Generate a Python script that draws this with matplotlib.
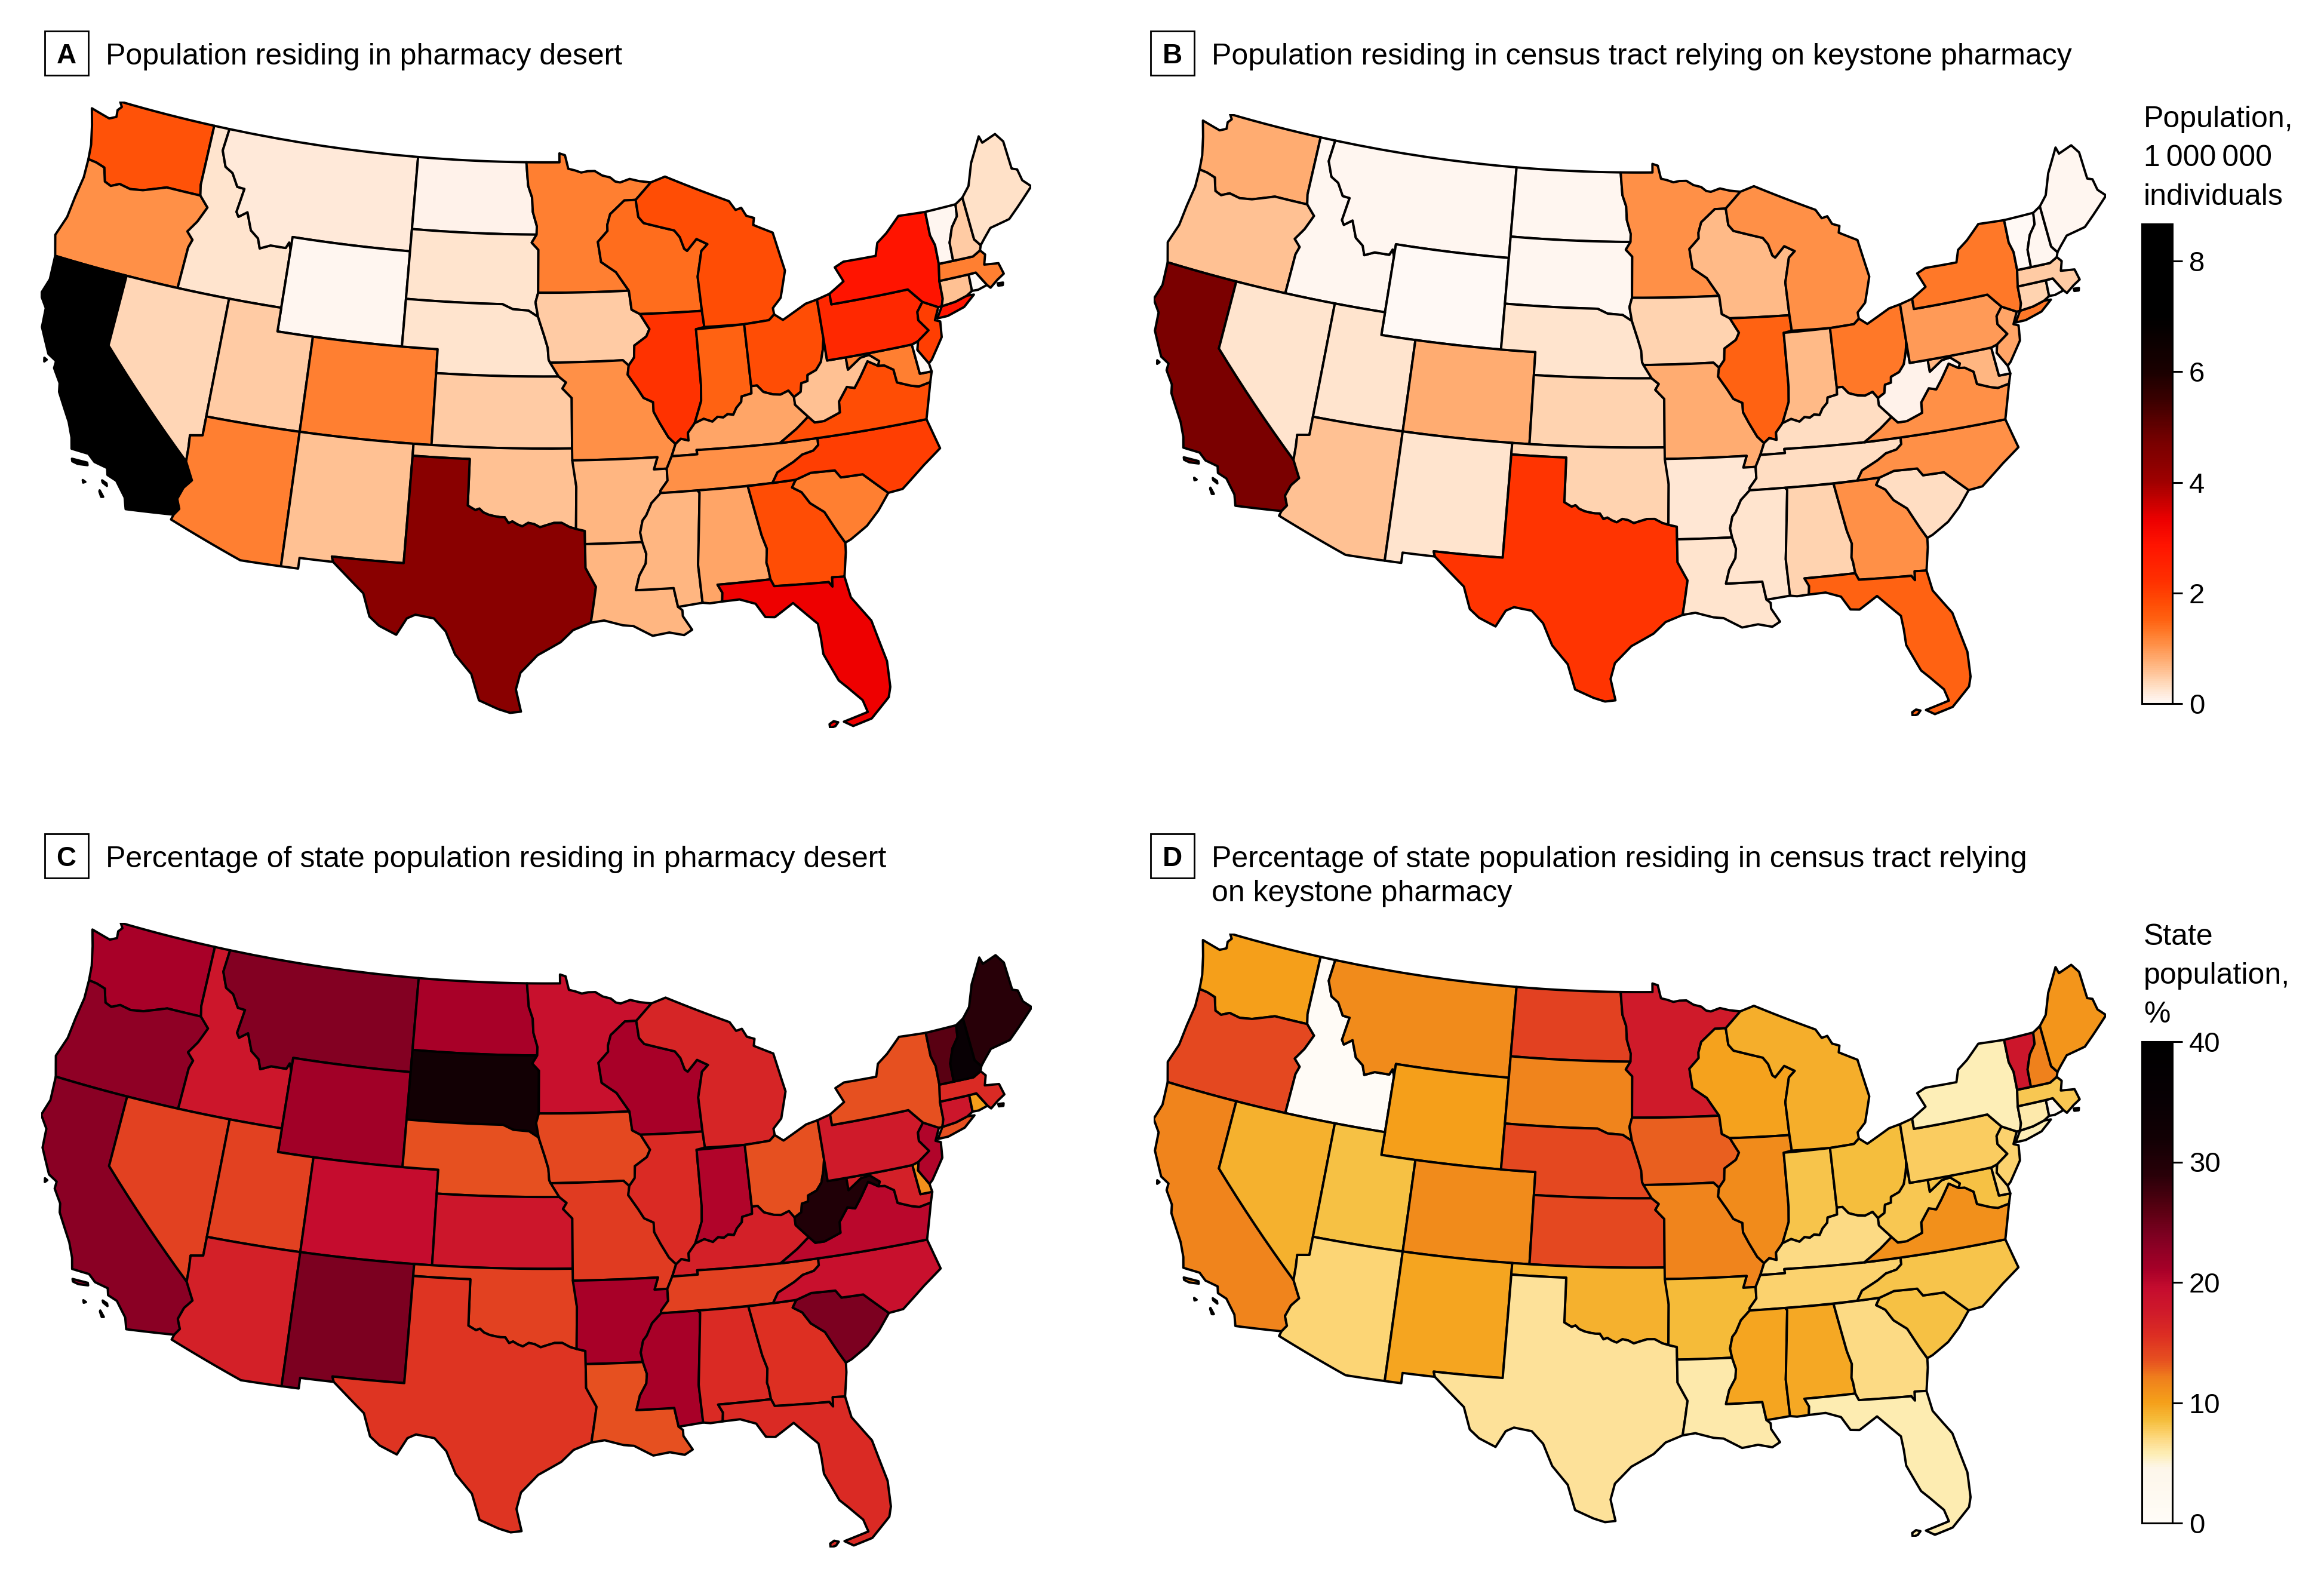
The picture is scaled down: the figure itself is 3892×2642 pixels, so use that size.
import numpy as np
import matplotlib
matplotlib.use('Agg')
import matplotlib.pyplot as plt
from matplotlib.colors import LinearSegmentedColormap, Normalize
from matplotlib.cm import ScalarMappable
from matplotlib.patches import Rectangle

plt.rcParams['font.family'] = ['Liberation Sans', 'DejaVu Sans']

W, H = 3892, 2642

# values per state
state_names = ['WA','OR','CA','ID','NV','MT','WY','UT','AZ','CO','NM','ND','SD','NE','KS','OK','TX',
               'MN','IA','MO','AR','LA','WI','IL','MI','IN','OH','KY','TN','MS','AL','GA','FL','SC','NC',
               'VA','WV','MD','DE','PA','NJ','NY','CT','RI','MA','VT','NH','ME']
pop_desert = [1.75,1.05,8.6,0.27,0.4,0.18,0.05,0.5,1.25,1.25,0.6,0.1,0.27,0.27,0.5,0.6,4.4,
              1.25,0.5,1.05,0.7,0.7,1.4,2.2,1.8,1.5,1.8,0.85,1.05,0.7,0.85,1.8,3.3,1.25,2.0,
              1.8,0.6,1.25,0.02,2.4,2.0,2.85,0.6,0.02,1.25,0.05,0.5,0.3]
pop_keystone = [0.8,0.6,4.7,0.04,0.25,0.05,0.02,0.25,0.6,0.8,0.25,0.05,0.05,0.25,0.42,0.42,2.15,
                1.05,0.42,0.8,0.22,0.25,0.65,1.5,1.05,0.65,1.3,0.33,0.33,0.25,0.42,1.05,1.5,0.33,1.05,
                1.05,0.07,0.7,0.05,0.95,0.85,1.3,0.42,0.02,0.5,0.02,0.06,0.06]
pct_desert = [21,22.8,23,18,14.5,23.5,21.5,14.5,17,19.5,24,21,32,13.5,18,14.5,15.3,
              19,14,14.8,21,13.5,21,16,16.5,20.5,13.5,17,14.5,21,16,15.5,16,24,19,
              20,30,17,11,17.5,20.5,13.5,18,10,16,26,35,29]
pct_keystone = [10,14,11.8,0.5,9.2,11.4,10,8.3,7.2,11.4,9.8,14.5,11.8,14,14,9.2,6.5,
                17.5,13,11.8,8.6,6,9.9,11.3,9.3,8.2,8.5,7,7.4,9.8,9.6,7,5.9,8.3,8.2,
                11,8,8.3,7,7.8,7.4,5.7,6,3,8,18,12,10.7]

# shared borders, lon/lat
wa_or = [(-116.92,45.99),(-119.0,46.0),(-120.34,45.64),(-121.1,45.55),(-121.78,45.64),(-122.26,45.46),
         (-122.67,45.57),(-122.94,46.13),(-123.48,46.24),(-124.0,46.28)]
or_id = [(-117.03,42.0),(-116.95,43.75),(-116.8,44.1),(-117.2,44.4),(-116.75,44.9),(-116.35,45.56),(-116.92,45.99)]
id_mt = [(-116.05,49.0),(-116.18,48.05),(-115.8,47.4),(-115.3,47.2),(-114.85,46.67),(-114.4,46.64),(-114.6,45.63),
         (-114.43,45.44),(-113.95,45.7),(-113.55,44.98),(-113.05,44.7),(-112.85,44.3),(-112.25,44.5),(-111.35,44.5),
         (-111.2,44.75),(-111.05,44.47)]
colorado_r = [(-114.05,36.2),(-114.7,36.1),(-114.65,35.6),(-114.63,35.0),(-114.15,34.27),(-114.5,33.9),(-114.7,33.4),(-114.5,33.0),(-114.72,32.72)]
red_river = [(-100.0,34.56),(-99.6,34.38),(-99.4,34.45),(-99.2,34.3),(-98.9,34.2),(-98.6,34.15),(-98.35,34.12),(-98.1,34.12),
             (-97.9,33.88),(-97.7,33.95),(-97.45,33.83),(-97.2,33.75),(-96.9,33.9),(-96.6,33.85),(-96.3,33.72),(-96.0,33.8),
             (-95.6,33.9),(-95.2,33.9),(-94.8,33.72),(-94.48,33.64)]
mn_nd = [(-97.23,49.0),(-97.1,48.0),(-96.85,47.5),(-96.8,46.9),(-96.55,46.3),(-96.56,45.94)]
mn_sd = [(-96.56,45.94),(-96.85,45.6),(-96.45,45.3),(-96.45,43.5)]
missouri_ne = [(-96.45,42.49),(-96.1,41.7),(-95.9,41.2),(-95.85,40.7),(-95.77,40.58)]
sd_ne = [(-96.45,43.5),(-96.6,43.1),(-96.45,42.49),(-97.0,42.75),(-97.9,42.8),(-98.5,43.0),(-104.05,43.0)]
ks_mo = [(-95.3,40.0),(-94.9,39.75),(-95.1,39.5),(-94.6,39.1),(-94.62,37.0)]
mn_wi = [(-92.1,46.75),(-92.3,46.3),(-92.3,46.05),(-92.9,45.6),(-92.75,44.75),(-91.9,44.3),(-91.2,43.5)]
ia_wi = [(-91.2,43.5),(-91.1,42.7),(-90.64,42.5)]
ia_il = [(-90.64,42.5),(-90.15,41.85),(-90.35,41.55),(-91.05,41.2),(-91.1,40.7),(-91.42,40.38)]
mo_il = [(-91.42,40.38),(-91.5,40.0),(-91.0,39.4),(-90.7,39.0),(-90.2,38.8),(-90.2,38.4),(-89.9,37.9),(-89.5,37.3),(-89.15,37.0)]
mo_ky = [(-89.15,37.0),(-89.4,36.5)]
mo_tn = [(-89.4,36.5),(-89.7,36.0)]
ar_tn = [(-89.7,36.0),(-89.7,35.5),(-90.1,35.1),(-90.1,35.0)]
ar_ms = [(-90.1,35.0),(-90.6,34.6),(-90.9,34.1),(-91.1,33.9),(-91.25,33.4),(-91.17,33.0)]
la_ms = [(-91.17,33.0),(-91.0,32.5),(-91.05,32.1),(-91.4,31.6),(-91.6,31.0),(-89.75,31.0),(-89.6,30.2)]
oh_wv = [(-80.52,40.64),(-80.65,40.2),(-80.87,39.7),(-81.2,39.4),(-81.7,39.25),(-81.75,39.0),(-82.1,38.95),(-82.2,38.6),(-82.6,38.42)]
oh_ky = [(-82.6,38.42),(-82.85,38.72),(-83.3,38.6),(-83.7,38.65),(-84.2,38.8),(-84.5,39.1),(-84.82,39.1)]
in_ky = [(-84.82,39.1),(-84.85,38.8),(-85.4,38.72),(-85.45,38.5),(-85.75,38.27),(-85.95,38.0),(-86.25,38.05),(-86.5,37.93),(-86.8,37.98),(-87.1,37.8),(-87.55,37.95),(-88.05,37.8)]
il_ky = [(-88.05,37.8),(-88.45,37.42),(-88.45,37.1),(-88.85,37.2),(-89.15,37.0)]
il_in = [(-87.53,41.7),(-87.53,39.35),(-87.6,38.7),(-87.95,38.0),(-88.05,37.8)]
ky_wv = [(-82.6,38.42),(-82.6,38.1),(-82.0,37.53)]
ky_va = [(-82.0,37.53),(-82.7,37.1),(-83.68,36.6)]
va_wv = [(-82.0,37.53),(-81.7,37.25),(-81.2,37.25),(-80.3,37.5),(-80.25,37.95),(-79.7,38.5),(-79.3,38.4),(-78.9,38.8),(-78.35,39.4),(-77.83,39.13)]
tn_nc = [(-81.68,36.59),(-81.7,36.3),(-82.0,36.1),(-82.6,36.0),(-83.1,35.75),(-84.0,35.4),(-84.32,34.99)]
al_ga = [(-85.6,34.98),(-85.18,32.87),(-85.0,32.3),(-85.1,31.7),(-85.05,31.5),(-85.0,31.0)]
ga_fl = [(-85.0,31.0),(-84.86,30.7),(-82.2,30.57),(-82.05,30.36),(-82.0,30.75),(-81.4,30.7)]
ga_sc = [(-83.11,35.0),(-83.35,34.7),(-82.9,34.45),(-82.55,33.95),(-81.9,33.5),(-81.4,32.6),(-81.1,32.1)]
nc_sc = [(-83.11,35.0),(-82.3,35.2),(-81.05,35.15),(-80.8,34.82),(-79.67,34.8),(-78.55,33.85)]
md_wv = [(-79.48,39.72),(-79.48,39.2),(-78.7,39.6),(-78.2,39.65),(-77.72,39.32),(-77.83,39.13)]
md_va = [(-77.83,39.13),(-77.5,39.1),(-77.05,38.85),(-77.0,38.3),(-76.3,38.05),(-75.9,37.95),(-75.25,38.03)]
pa_nj = [(-74.7,41.36),(-75.1,41.0),(-75.15,40.65),(-74.72,40.15),(-75.42,39.8)]
de_nj = [(-75.42,39.8),(-75.55,39.45),(-75.1,38.8),(-75.05,38.45)]
ny_vt = [(-73.35,45.0),(-73.4,44.0),(-73.25,43.55),(-73.3,42.75)]
vt_nh = [(-71.5,45.0),(-71.6,44.5),(-72.05,44.1),(-72.4,43.5),(-72.46,42.73)]
nh_me = [(-71.0,45.2),(-70.98,43.38),(-70.7,43.07)]
lake_mi = [(-87.1,42.44),(-87.16,43.88),(-86.8,44.94),(-86.4,45.2),(-87.02,45.46),(-87.64,45.0),(-87.8,45.1),(-88.0,45.6),(-88.3,45.9),(-90.1,46.3),(-90.4,46.57),(-90.5,47.3)]
ct_ny = [(-73.7,41.0),(-72.9,41.05),(-72.2,41.18),(-71.85,41.32)]

# outlines, lon/lat
wa = [(-123.15,49.0),(-117.03,49.0),(-117.04,46.42)] + wa_or + [(-124.1,46.9),(-124.4,47.7),(-124.72,48.38),(-123.5,48.18),(-123.1,48.33),(-123.15,48.62),(-122.95,48.8)]
or_ = [(-124.0,46.28),(-123.95,45.5),(-124.1,44.6),(-124.2,43.7),(-124.55,42.84),(-124.2,42.0)] + or_id + wa_or
ca = [(-124.2,42.0),(-120.0,42.0),(-120.0,39.0),(-114.63,35.0)] + colorado_r[4:] + [(-117.12,32.53),(-117.3,33.0),(-117.9,33.6),(-118.4,33.75),(-118.5,34.03),(-119.2,34.15),(-119.6,34.42),(-120.5,34.45),(-120.65,34.9),(-121.0,35.5),(-121.9,36.6),(-122.0,36.96),(-122.5,37.5),(-122.5,37.8),(-123.0,38.0),(-123.75,39.0),(-123.85,39.8),(-124.35,40.3),(-124.1,41.0)]
ca_i1 = [(-120.35,34.05),(-120.0,34.05),(-119.55,34.05),(-119.5,33.95),(-120.0,33.9),(-120.3,33.95)]
ca_i2 = [(-118.6,33.48),(-118.35,33.4),(-118.3,33.3),(-118.55,33.4)]
ca_i3 = [(-118.6,33.05),(-118.35,32.82),(-118.45,32.8),(-118.6,33.0)]
ca_i4 = [(-119.55,33.3),(-119.4,33.25),(-119.5,33.2)]
ca_i5 = [(-123.15,37.8),(-123.0,37.75),(-123.1,37.65)]
id_ = [(-117.03,49.0)] + id_mt + [(-111.05,42.0)] + or_id + [(-117.04,46.42)]
nv = [(-120.0,42.0),(-114.05,42.0)] + colorado_r[:4] + [(-120.0,39.0)]
mt = id_mt + [(-111.05,45.0),(-104.05,45.0),(-104.05,49.0)]
wy = [(-111.05,45.0),(-104.05,45.0),(-104.05,41.0),(-111.05,41.0)]
ut = [(-114.05,42.0),(-111.05,42.0),(-111.05,41.0),(-109.05,41.0),(-109.05,37.0),(-114.05,37.0)]
az = [(-114.05,37.0),(-109.05,37.0),(-109.05,31.33),(-111.07,31.33),(-114.8,32.5)] + colorado_r[::-1]
co = [(-109.05,41.0),(-102.05,41.0),(-102.05,37.0),(-109.05,37.0)]
nm = [(-109.05,37.0),(-103.0,37.0),(-103.05,32.0),(-106.62,32.0),(-106.53,31.78),(-108.2,31.78),(-108.2,31.33),(-109.05,31.33)]
nd = [(-104.05,49.0)] + mn_nd + [(-104.05,45.94)]
sd = [(-104.05,45.94)] + mn_sd + sd_ne
ne = [(-104.05,43.0),(-98.5,43.0),(-97.9,42.8),(-97.0,42.75)] + missouri_ne + [(-95.3,40.0),(-102.05,40.0),(-102.05,41.0),(-104.05,41.0)]
ks = [(-102.05,40.0)] + ks_mo + [(-102.05,37.0)]
ok = [(-103.0,37.0),(-94.62,37.0),(-94.43,35.4)] + red_river[::-1] + [(-100.0,36.5),(-103.0,36.5)]
tx = [(-103.0,36.5),(-100.0,36.5)] + red_river + [(-94.04,33.55),(-94.04,33.0),(-94.04,32.0),(-93.55,31.2),(-93.7,30.4),(-93.84,29.7),(-94.7,29.4),(-95.3,28.9),(-96.4,28.35),(-97.2,27.6),(-97.4,26.9),(-97.15,25.96),(-97.65,25.9),(-98.2,26.05),(-99.1,26.4),(-99.5,27.5),(-100.3,28.3),(-100.8,29.25),(-101.4,29.77),(-102.3,29.88),(-102.7,29.7),(-103.15,28.98),(-104.0,29.3),(-104.5,29.65),(-104.9,30.6),(-106.0,31.4),(-106.53,31.78),(-106.62,32.0),(-103.05,32.0)]
mn = [(-97.23,49.0),(-95.15,49.0),(-95.15,49.38),(-94.8,49.3),(-94.6,48.72),(-94.2,48.65),(-93.8,48.55),(-93.4,48.6),(-92.95,48.6),(-92.5,48.4),(-92.0,48.3),(-91.7,48.12),(-91.4,48.07),(-90.8,48.2),(-90.2,48.08),(-89.5,48.0),(-90.5,47.3),(-91.2,47.3)] + mn_wi + mn_sd[::-1] + mn_nd[::-1][1:-1]
ia = [(-96.45,43.5)] + ia_wi + ia_il + [(-91.73,40.61)] + missouri_ne[::-1] + [(-96.6,43.1)]
mo = [(-95.77,40.58),(-91.73,40.61)] + mo_il + mo_ky[1:] + mo_tn[1:] + [(-90.37,36.0),(-90.15,36.5),(-94.62,36.5)] + ks_mo[::-1]
ar = [(-94.62,36.5),(-90.15,36.5),(-90.37,36.0)] + ar_tn + ar_ms[1:] + [(-94.04,33.0),(-94.04,33.55),(-94.48,33.64),(-94.43,35.4)]
la = [(-94.04,33.0)] + la_ms + [(-89.4,30.05),(-89.4,29.8),(-89.0,29.2),(-89.4,29.0),(-90.1,29.15),(-90.9,29.05),(-91.8,29.5),(-92.3,29.55),(-93.2,29.78),(-93.84,29.7),(-93.7,30.4),(-93.55,31.2),(-94.04,32.0)]
wi = [(-92.1,46.75),(-91.2,47.3)] + lake_mi[::-1] + ia_wi[::-1] + mn_wi[::-1][1:-1]
il = [(-90.64,42.5),(-87.1,42.44),(-87.05,41.76)] + il_in + il_ky[1:] + mo_il[::-1][1:] + ia_il[::-1][1:-1]
mi = [(-89.5,48.0),(-88.6,48.2),(-84.83,46.9),(-84.5,46.5),(-84.14,46.56),(-83.9,46.2),(-83.46,46.07),(-83.56,45.78),(-82.47,45.35),(-82.08,43.7),(-82.55,42.6),(-83.07,42.22),(-83.05,41.95),(-83.38,41.74),(-84.8,41.7),(-87.05,41.76)] + lake_mi
in_ = [(-87.53,41.7),(-84.8,41.7),(-84.82,39.1)] + in_ky[1:] + il_in[::-1][1:-1]
oh = [(-84.8,41.7),(-83.38,41.74),(-83.05,41.95),(-82.6,41.67),(-81.2,42.2),(-80.52,42.3)] + oh_wv + oh_ky[1:]
ky = [(-89.4,36.5),(-88.05,36.5),(-88.07,36.68),(-83.68,36.6)] + ky_va[::-1][1:] + ky_wv[::-1][1:] + oh_ky[1:] + in_ky[1:] + il_ky[1:]
tn = [(-89.4,36.5),(-88.05,36.5),(-88.07,36.68),(-83.68,36.6)] + tn_nc + ar_tn[::-1] + mo_tn[:0]
ms = [(-90.1,35.0),(-88.2,35.0),(-88.1,34.9),(-88.47,31.9),(-88.4,30.3)] + la_ms[::-1] + ar_ms[::-1][1:-1]
al = [(-88.2,35.0)] + al_ga + [(-87.6,31.0),(-87.4,30.65),(-87.45,30.28),(-88.05,30.25),(-88.4,30.3),(-88.47,31.9),(-88.1,34.9)]
ga = [(-85.6,34.98)] + ga_sc + [(-81.15,31.7)] + ga_fl[::-1] + al_ga[::-1][1:-1]
fl = [(-87.6,31.0)] + ga_fl + [(-81.25,29.8),(-80.46,28.7),(-80.05,26.9),(-80.1,25.8),(-80.25,25.38),(-81.17,24.6),(-82.05,24.4),(-82.44,24.64),(-81.3,24.9),(-81.45,25.43),(-82.05,26.06),(-82.4,26.4),(-82.94,27.6),(-82.95,28.28),(-83.0,28.9),(-84.05,29.9),(-85.0,29.4),(-85.45,29.45),(-85.85,30.05),(-86.6,30.3),(-87.45,30.28),(-87.4,30.65)]
fl_k1 = [(-83.1,24.45),(-82.85,24.5),(-82.7,24.65),(-82.9,24.72),(-83.1,24.62)]
sc = ga_sc[::-1][:-1] + nc_sc + [(-79.2,33.2),(-79.9,32.65),(-80.8,32.2)]
nc = [(-84.32,34.99)] + tn_nc[::-1][1:] + [(-75.87,36.55),(-75.5,35.25),(-76.5,34.7),(-77.8,33.9)] + nc_sc[::-1]
va = [(-83.68,36.6),(-81.68,36.59),(-75.87,36.55)] + md_va[::-1] + va_wv[::-1] + ky_va
wv = oh_wv[::-1] + [(-80.52,39.72)] + md_wv + va_wv[::-1][1:] + ky_wv[::-1][1:-1]
md = md_wv + md_va[1:] + [(-75.05,38.45),(-75.7,38.46),(-75.79,39.72)]
de = [(-75.79,39.72)] + de_nj + [(-75.7,38.46)]
pa = [(-80.52,42.3),(-79.76,42.45),(-79.76,42.0),(-75.35,42.0)] + pa_nj + [(-75.79,39.72),(-80.52,39.72),(-80.52,40.64)]
nj = pa_nj + de_nj[1:3] + [(-74.9,38.93),(-74.1,39.75),(-73.98,40.4),(-74.25,40.5),(-73.9,41.0)]
ny = [(-79.76,42.45),(-78.85,42.86),(-79.2,43.5),(-78.65,43.67),(-76.75,43.65),(-76.5,44.17),(-75.85,44.5),(-74.95,45.09)] + ny_vt + [(-73.5,42.05),(-73.55,41.3),(-73.7,41.0),(-73.9,41.0),(-74.7,41.36),(-75.35,42.0),(-79.76,42.0)]
li = [(-74.1,40.55)] + ct_ny[:3] + [(-71.8,41.15),(-72.5,40.75),(-73.5,40.55)]
ct = [(-73.5,42.05),(-71.8,42.02)] + ct_ny[::-1] + [(-73.55,41.3)]
ri = [(-71.8,42.02),(-71.38,42.02),(-70.95,41.4),(-71.5,41.3),(-71.85,41.32)]
ma = [(-73.5,42.05),(-73.3,42.75),(-72.46,42.73),(-71.3,42.7),(-70.82,42.87),(-70.6,42.65),(-70.8,42.25),(-70.0,42.15),(-69.87,41.67),(-70.3,41.5),(-70.8,41.25),(-70.95,41.4),(-71.38,42.02),(-71.8,42.02)]
ma_i = [(-70.35,41.35),(-70.05,41.32),(-70.1,41.22),(-70.35,41.25)]
vt = [(-73.35,45.0)] + vt_nh + ny_vt[::-1][:-1]
nh = vt_nh + [(-71.3,42.7),(-70.82,42.87)] + nh_me[::-1]
me = nh_me + [(-70.4,43.3),(-69.9,43.66),(-68.7,43.8),(-68.0,44.2),(-66.9,44.85),(-67.3,45.2),(-67.4,45.7),(-67.7,45.8),(-67.7,47.0),(-68.05,47.4),(-68.95,47.2),(-69.05,47.5),(-69.95,46.5),(-70.47,45.6)]

shapes = {'WA':[wa],'OR':[or_],'CA':[ca,ca_i1,ca_i2,ca_i3,ca_i4,ca_i5],'ID':[id_],'NV':[nv],'MT':[mt],'WY':[wy],'UT':[ut],
          'AZ':[az],'CO':[co],'NM':[nm],'ND':[nd],'SD':[sd],'NE':[ne],'KS':[ks],'OK':[ok],'TX':[tx],'MN':[mn],
          'IA':[ia],'MO':[mo],'AR':[ar],'LA':[la],'WI':[wi],'IL':[il],'MI':[mi],'IN':[in_],'OH':[oh],'KY':[ky],
          'TN':[tn],'MS':[ms],'AL':[al],'GA':[ga],'FL':[fl,fl_k1],'SC':[sc],'NC':[nc],'VA':[va],'WV':[wv],
          'MD':[md],'DE':[de],'PA':[pa],'NJ':[nj],'NY':[ny,li],'CT':[ct],'RI':[ri],'MA':[ma,ma_i],'VT':[vt],'NH':[nh],'ME':[me]}

pop_max = 8.67
pop_stops = [(0,'#fff9f5'),(0.1,'#ffefe5'),(0.25,'#ffe3cc'),(0.5,'#ffc9a0'),(0.7,'#ffb47e'),(1.05,'#ff9048'),(1.25,'#ff7d2d'),
             (1.5,'#ff6212'),(1.8,'#ff4d05'),(2.2,'#ff3000'),(2.85,'#ff1400'),(3.3,'#ee0000'),(4.0,'#a00000'),(4.4,'#880000'),
             (4.7,'#7a0000'),(5.5,'#3a0000'),(6,'#1a0000'),(7,'#000000'),(pop_max,'#000000')]
pct_stops = [(0,'#fffcf7'),(4.5,'#fdf6ea'),(5.7,'#fdeeb5'),(6.5,'#fde096'),(7.5,'#fbd068'),(8.5,'#f5bd3c'),(10,'#f5a01a'),(12,'#ef801c'),
             (13.5,'#e65020'),(15.5,'#dd2f22'),(17.5,'#cf1a2a'),(19.5,'#c50c2e'),(21,'#a80028'),(23,'#8b0024'),(24,'#7c0020'),
             (26,'#5a0012'),(29,'#280008'),(32,'#120004'),(35,'#080004'),(40,'#000000')]
cmap_pop = LinearSegmentedColormap.from_list('pop', [(v / pop_max, c) for v, c in pop_stops])
cmap_pct = LinearSegmentedColormap.from_list('pct', [(v / 40, c) for v, c in pct_stops])

def albers(lon, lat, lon0=-96.0, lat0=37.5, p1=29.5, p2=45.5):
    lon, lat = np.radians(lon), np.radians(lat)
    lon0, lat0, p1, p2 = map(np.radians, (lon0, lat0, p1, p2))
    n = (np.sin(p1) + np.sin(p2)) / 2
    c = np.cos(p1) ** 2 + 2 * n * np.sin(p1)
    rho = np.sqrt(c - 2 * n * np.sin(lat)) / n
    rho0 = np.sqrt(c - 2 * n * np.sin(lat0)) / n
    th = n * (lon - lon0)
    return rho * np.sin(th), rho0 - rho * np.cos(th)

def project(ring):
    # extra points on each edge so that parallels come out curved
    pts = np.array(ring + ring[:1])
    t = np.arange(len(pts))
    tt = np.linspace(0, len(pts) - 1, (len(pts) - 1) * 8 + 1)
    return albers(np.interp(tt, t, pts[:, 0]), np.interp(tt, t, pts[:, 1]))

all_xy = [project(r) for s in shapes.values() for r in s]
xmin = min(a[0].min() for a in all_xy); xmax = max(a[0].max() for a in all_xy)
ymin = min(a[1].min() for a in all_xy); ymax = max(a[1].max() for a in all_xy)

def draw_map(box, values, cmap, norm):
    x0, y0, x1, y1 = box
    ax = fig.add_axes([x0 / W, 1 - y1 / H, (x1 - x0) / W, (y1 - y0) / H])
    for name, val in zip(state_names, values):
        for ring in shapes[name]:
            x, y = project(ring)
            ax.fill(x, y, facecolor=cmap(norm(val)), edgecolor='black', linewidth=2.8, joinstyle='round')
    ax.set_xlim(xmin, xmax)
    ax.set_ylim(ymin, ymax)
    ax.axis('off')
    return ax

def panel_title(letter, lines, bx, by):
    fig.add_artist(Rectangle((bx / W, 1 - (by + 74) / H), 73 / W, 74 / H, transform=fig.transFigure,
                             facecolor='white', edgecolor='black', linewidth=2.0))
    fig.text((bx + 36) / W, 1 - (by + 37) / H, letter, ha='center', va='center_baseline', fontsize=33, fontweight='bold')
    for i, line in enumerate(lines):
        fig.text((bx + 102) / W, 1 - (by + 56 + i * 57) / H, line, ha='left', va='baseline', fontsize=36)

def add_cbar(box, cmap, norm, ticks, labels):
    x0, y0, x1, y1 = box
    cax = fig.add_axes([x0 / W, 1 - y1 / H, (x1 - x0) / W, (y1 - y0) / H])
    cb = fig.colorbar(ScalarMappable(norm=norm, cmap=cmap), cax=cax, ticks=ticks)
    cb.outline.set_linewidth(2.2)
    cb.ax.tick_params(length=12, width=2.2, labelsize=34, pad=8)
    for i, line in enumerate(labels):
        fig.text(3590 / W, 1 - (y0 - 162 + i * 65) / H, line, ha='left', va='baseline', fontsize=36)

fig = plt.figure(figsize=(W / 100, H / 100), dpi=100)

norm_pop = Normalize(0, pop_max)
norm_pct = Normalize(0, 40)

draw_map((68, 170, 1727, 1219), pop_desert, cmap_pop, norm_pop)
draw_map((1932, 191, 3527, 1199), pop_keystone, cmap_pop, norm_pop)
draw_map((69, 1545, 1728, 2591), pct_desert, cmap_pct, norm_pct)
draw_map((1932, 1563, 3527, 2573), pct_keystone, cmap_pct, norm_pct)

panel_title('A', ['Population residing in pharmacy desert'], 75, 52)
panel_title('B', ['Population residing in census tract relying on keystone pharmacy'], 1927, 52)
panel_title('C', ['Percentage of state population residing in pharmacy desert'], 75, 1396)
panel_title('D', ['Percentage of state population residing in census tract relying', 'on keystone pharmacy'], 1927, 1396)

add_cbar((3587, 375, 3638, 1178), cmap_pop, norm_pop, [0, 2, 4, 6, 8], ['Population,', '1\u2009000\u2009000', 'individuals'])
add_cbar((3587, 1744, 3638, 2550), cmap_pct, norm_pct, [0, 10, 20, 30, 40], ['State', 'population,', '%'])

fig.savefig('out.png', dpi=100)
